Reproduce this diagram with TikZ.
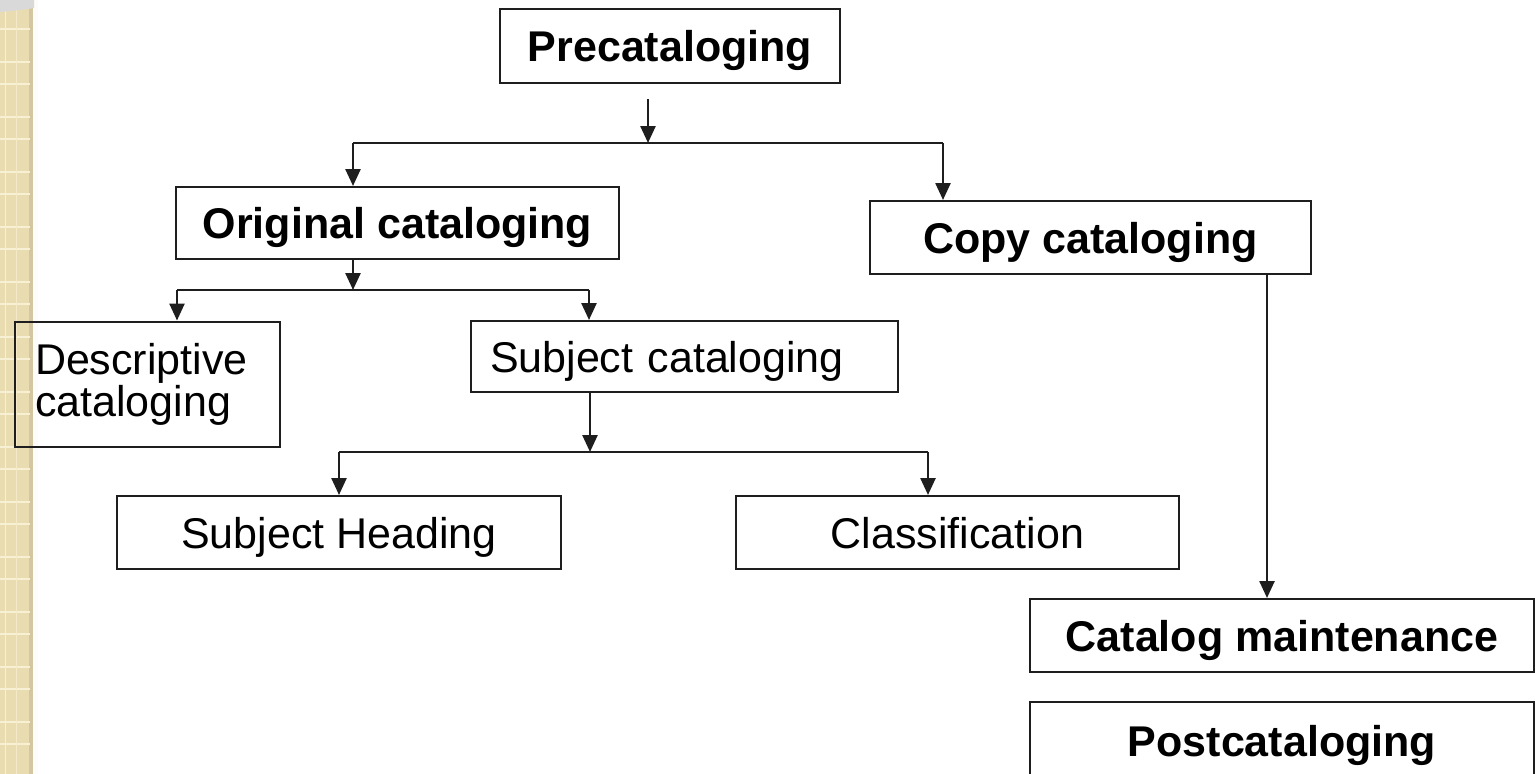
\documentclass[tikz,border=0pt]{standalone}
\usepackage{fontspec}
\setmainfont{Liberation Sans}
\usetikzlibrary{arrows.meta}
\definecolor{stripc}{RGB}{233,220,177}
\definecolor{stripl}{RGB}{248,240,212}
\definecolor{stripd}{RGB}{212,198,160}
\definecolor{linec}{RGB}{30,30,30}
\tikzset{
  box/.style={draw=linec, line width=2pt, inner sep=0pt, font=\fontsize{43}{44}\selectfont},
  one/.style={text height=39pt, text depth=8pt},
  bbox/.style={box, one, font=\fontsize{43}{44}\selectfont\bfseries},
  conn/.style={draw=linec, line width=2.5pt},
  arr/.style={conn, -{Triangle[width=15pt,length=17pt]}}
}
\begin{document}
\begin{tikzpicture}[x=1pt,y=-1pt]
\clip (0,0) rectangle (1535,774);
\fill[white] (0,0) rectangle (1535,774);
% left decorative strip
\fill[stripc] (0,0) rectangle (33,774);
\fill[stripd] (29,0) rectangle (33,774);
\fill[white!92!stripc] (33,0) rectangle (38,774);
\foreach \k in {0,...,14}{
  \draw[stripl, line width=1.5pt] (0,29+55*\k) -- (30,29+55*\k);
  \draw[stripl, line width=1.5pt] (0,62+55*\k) -- (30,62+55*\k);
}
\draw[stripl, line width=1pt] (5,0) -- (5,774);
\draw[stripl!70!stripc, line width=1pt] (16,0) -- (16,774);
\fill[gray!30] (0,0) -- (34,0) -- (34,8) .. controls (22,10) and (10,11) .. (0,12) -- cycle;

% nodes
\node[bbox, minimum width=340pt, minimum height=74pt] (pre) at (670,46) {Precataloging};
\node[bbox, minimum width=443pt, minimum height=72pt] (orig) at (397.5,223) {Original cataloging};
\node[bbox, minimum width=441pt, minimum height=73pt] (copy) at (1090.5,237.5) {Copy cataloging};
\node[box, minimum height=125pt, inner xsep=20pt, text width=225pt, align=left] (desc) at (147.5,384) {Descriptive\\[-2pt]cataloging};
\node[box, one, minimum height=71pt, inner xsep=19pt, text width=389pt, align=left] (sc) at (684.5,356.5) {Subject cataloging};
\node[box, one, minimum width=444pt, minimum height=73pt] (sh) at (339,532.5) {Subject Heading};
\node[box, one, minimum width=443pt, minimum height=73pt] (cl) at (957.5,532.5) {Classification};
\node[bbox, minimum width=504pt, minimum height=73pt] (cm) at (1282,635.5) {Catalog maintenance};
\node[bbox, minimum width=504pt, minimum height=78pt] (post) at (1282,741) {Postcataloging};

% junction coordinates
\coordinate (j1) at (648,143);
\coordinate (a1) at (353,143);
\coordinate (a2) at (943,143);
\coordinate (j2) at (353,290);
\coordinate (b1) at (177,290);
\coordinate (b2) at (589,290);
\coordinate (j3) at (590,452);
\coordinate (c1) at (339,452);
\coordinate (c2) at (928,452);
\coordinate (d1) at (1267,274);

% connectors
\draw[arr] (pre.south -| j1) ++(0,15) -- (j1);
\draw[conn] (a1) -- (a2);
\draw[arr] (a1) -- (a1 |- orig.north);
\draw[arr] (a2) -- (a2 |- copy.north);

\draw[arr] (orig.south -| j2) -- (j2);
\draw[conn] (b1) -- (b2);
\draw[arr] (b1) -- (b1 |- desc.north);
\draw[arr] (b2) -- (b2 |- sc.north);

\draw[arr] (sc.south -| j3) -- (j3);
\draw[conn] (c1) -- (c2);
\draw[arr] (c1) -- (c1 |- sh.north);
\draw[arr] (c2) -- (c2 |- cl.north);

\draw[arr] (copy.south -| d1) -- (d1 |- cm.north);
\end{tikzpicture}
\end{document}
